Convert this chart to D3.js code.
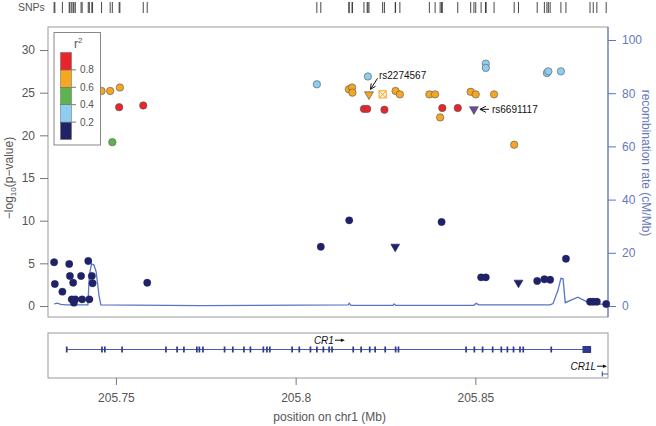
<!DOCTYPE html>
<html><head><meta charset="utf-8">
<script src="https://cdn.jsdelivr.net/npm/d3@7"></script>
<style>
body{margin:0;background:#fff;}
svg{display:block;font-family:"Liberation Sans",Arial,sans-serif;}
</style></head><body>
<svg id="chart" width="656" height="426"></svg>
<script>
// ---- data ----
const snpPos = [205.7328,205.7330,205.7351,205.7370,205.7372,205.7381,205.7377,205.7383,205.7387,205.7403,205.7406,205.7423,205.7433,205.7435,205.7426,205.7587,
205.7460,205.7484,205.7511,205.7509,205.7576,205.7490,
205.8059,205.8070,205.8148,205.8157,205.8158,205.8149,205.8201,205.8204,205.8242,205.8278,205.8290,205.8190,205.8199,205.8247,205.8277,
205.8372,205.8388,205.8408,205.8402,205.8406,205.8451,205.8487,205.8501,205.8496,205.8529,205.8529,205.8552,205.8516,205.8529,205.8608,
205.8620,205.8672,205.8692,205.8699,205.8703,205.8708,205.8738,205.8752,205.8819,205.8828,205.8838,205.8864];
const snpLogP = [5.12,2.58,1.68,4.92,3.52,2.73,0.78,0.39,0.78,3.52,0.78,5.27,3.52,2.66,0.78,2.73,
25.2,25.2,25.6,23.3,23.5,19.2,
25.98,6.95,25.4,25.6,25.0,10.04,26.9,24.8,24.8,25.2,24.8,23.1,23.1,23.0,6.95,
24.8,24.8,23.2,22.1,9.84,23.2,25.1,24.8,23.05,28.4,27.9,24.8,3.36,3.36,18.9,
2.73,2.93,3.13,27.3,27.5,3.08,27.5,5.54,0.5,0.5,0.5,0.23];
const snpR2 = [0.1,0.1,0.1,0.1,0.1,0.1,0.1,0.1,0.1,0.1,0.1,0.1,0.1,0.1,0.1,0.1,
0.7,0.7,0.7,0.9,0.9,0.5,
0.3,0.1,0.7,0.7,0.7,0.1,0.3,0.7,0.7,0.7,0.7,0.9,0.9,0.9,0.1,
0.7,0.7,0.9,0.7,0.1,0.9,0.7,0.7,1.0,0.3,0.3,0.7,0.1,0.1,0.7,
0.1,0.1,0.1,0.3,0.3,0.1,0.3,0.1,0.1,0.1,0.1,0.1];
const snpShape = ["c","c","c","c","c","c","c","c","c","c","c","c","c","c","c","c",
"c","c","c","c","c","c",
"c","c","c","c","c","c","c","t","x","c","c","c","c","c","t",
"c","c","c","c","c","c","c","c","t","c","c","c","c","c","c",
"t","c","c","c","c","c","c","c","c","c","c","c"];
const labels = [{name:"rs2274567", idx:29}, {name:"rs6691117", idx:45}];

const recombPos = [205.7328,205.7336,205.7347,205.7361,205.7422,205.7426,205.7432,205.7439,205.7445,205.7453,205.7458,205.7734,205.8146,205.8149,205.8154,205.8271,205.8274,205.8279,205.8496,205.8502,205.8510,205.8708,205.8716,205.8730,205.8738,205.8744,205.8750,205.8785,205.8819,205.8869];
const recombRate = [0.75,1.1,0.6,0.4,0.4,11.6,15.8,15.4,12.8,3.8,0.4,0.15,0.4,1.0,0.2,0.2,0.75,0.2,0.25,1.0,0.4,0.4,0.9,6.0,10.4,10.2,1.25,3.3,1.0,0.55];

const geneCR1 = {name:"CR1", start:205.7363, end:205.8822};
const cr1Exons = [205.7363,205.7461,205.7469,205.7517,205.7639,205.7670,205.7689,205.7725,205.7732,205.7742,205.7802,205.7825,205.7856,205.7874,205.7910,205.7920,205.7928,205.7990,205.8010,205.8041,205.8059,205.8077,205.8093,205.8101,205.8160,205.8182,205.8206,205.8221,205.8249,205.8278,205.8286,205.8474,205.8497,205.8520,205.8548,205.8572,205.8589,205.8606,205.8624,205.8633,205.8711];
const cr1LastExon = [205.8798,205.8822];
const geneCR1L = {name:"CR1L", start:205.8853, end:205.8869};

const leftTicks = [0,5,10,15,20,25,30];
const rightTicks = [0,20,40,60,80,100];
const xTicks = [205.75,205.80,205.85];
const xTickLabels = ["205.75","205.8","205.85"];
const legendBreaks = [0.2,0.4,0.6,0.8];
const legendColors = ["#1f2266","#8ecdf0","#5db44e","#f5a623","#e8252b"];

// ---- layout ----
const svg = d3.select("#chart");
const L = 48, R = 608, T = 27, B = 317;
const gT = 333, gB = 378;
const x = d3.scaleLinear().domain([205.7311, 205.8869]).range([L, R]);
const y = d3.scaleLinear().domain([0, 30]).range([306, 50]);
const yR = d3.scaleLinear().domain([0, 100]).range([306, 40]);
const blue = "#5a74c8";
const gray = "#555";

function r2color(r){ if(r>=1) return "#6a4ba0"; const i=Math.min(4,Math.floor(r/0.2)); return legendColors[i]; }

// SNP rug
svg.append("text").attr("x",18).attr("y",11).attr("font-size",10.5).attr("fill",gray).text("SNPs");
svg.append("g").selectAll("line").data(snpPos).join("line")
  .attr("x1",d=>x(d)).attr("x2",d=>x(d)).attr("y1",2).attr("y2",13)
  .attr("stroke","#333").attr("stroke-width",0.9);

// main box
svg.append("rect").attr("x",L).attr("y",T).attr("width",R-L).attr("height",B-T).attr("fill","none").attr("stroke","#999").attr("stroke-width",1);

// left axis
const la = svg.append("g").attr("transform",`translate(${L},0)`)
  .call(d3.axisLeft(y).tickValues(leftTicks).tickSize(8).tickPadding(5).tickSizeOuter(0));
la.select(".domain").remove();
la.selectAll("line").attr("stroke","#777");
la.selectAll("text").attr("fill",gray).attr("font-size",12).attr("font-family","Liberation Sans, Arial, sans-serif");

// right axis
const ra = svg.append("g").attr("transform",`translate(${R},0)`)
  .call(d3.axisRight(yR).tickValues(rightTicks).tickSize(8).tickPadding(6).tickSizeOuter(0));
ra.select(".domain").attr("d",`M0,${T}V${B}`).attr("stroke",blue);
ra.selectAll("line").attr("stroke",blue);
ra.selectAll("text").attr("fill","#6677bb").attr("font-size",12).attr("font-family","Liberation Sans, Arial, sans-serif");

// axis titles
const lt = svg.append("text").attr("transform","translate(13,178) rotate(-90)").attr("text-anchor","middle").attr("font-size",12).attr("fill",gray);
lt.append("tspan").text("\u2212log");
lt.append("tspan").attr("font-size",8).attr("dy",3).text("10");
lt.append("tspan").attr("dy",-3).text("(p\u2212value)");
svg.append("text").attr("transform","translate(642,163) rotate(90)").attr("text-anchor","middle").attr("font-size",12).attr("fill","#6677bb").text("recombination rate (cM/Mb)");

// recombination line
const line = d3.line().x((d,i)=>x(recombPos[i])).y(d=>yR(d));
svg.append("path").datum(recombRate).attr("d",line).attr("fill","none").attr("stroke",blue).attr("stroke-width",1.3);

// points (navy first so coloured on top)
const order = d3.range(snpPos.length).sort((a,b)=>snpR2[a]-snpR2[b]);
const pg = svg.append("g");
const tri = d3.symbol().type(d3.symbolTriangle).size(34);
order.forEach(i=>{
  const cx = x(snpPos[i]), cy = y(snpLogP[i]), col = r2color(snpR2[i]);
  if(snpShape[i]==="c"){
    pg.append("circle").attr("cx",cx).attr("cy",cy).attr("r",3.7).attr("fill",col).attr("stroke",snpR2[i]<0.2?col:"#555").attr("stroke-width",snpR2[i]<0.2?0.3:0.6);
  } else if(snpShape[i]==="t"){
    pg.append("path").attr("d",tri).attr("transform",`translate(${cx},${cy}) rotate(180)`).attr("fill",col).attr("stroke",snpR2[i]<0.2?col:"#444").attr("stroke-width",0.6);
  } else {
    const s=3.6;
    pg.append("rect").attr("x",cx-s).attr("y",cy-s).attr("width",2*s).attr("height",2*s).attr("fill","#fff5e0").attr("stroke",col).attr("stroke-width",1);
    pg.append("path").attr("d",`M${cx-s},${cy-s}L${cx+s},${cy+s}M${cx+s},${cy-s}L${cx-s},${cy+s}`).attr("stroke",col).attr("stroke-width",1);
  }
});

// annotation labels
const a1 = labels[0], a2 = labels[1];
{
  const cx = x(snpPos[a1.idx]), cy = y(snpLogP[a1.idx]);
  svg.append("text").attr("x",cx+10).attr("y",cy-15.5).attr("font-size",10).attr("fill","#111").text(a1.name);
  const x0=cx+8.5, y0=cy-16, x1=cx+1.5, y1=cy-5;
  svg.append("line").attr("x1",x0).attr("y1",y0).attr("x2",x1).attr("y2",y1).attr("stroke","#111").attr("stroke-width",1);
  const ang = Math.atan2(y0-y1,x0-x1);
  const h=6, sp=0.45;
  svg.append("path").attr("d",`M${x1+h*Math.cos(ang+sp)},${y1+h*Math.sin(ang+sp)}L${x1},${y1}L${x1+h*Math.cos(ang-sp)},${y1+h*Math.sin(ang-sp)}`).attr("fill","none").attr("stroke","#111").attr("stroke-width",1);
}
{
  const cx = x(snpPos[a2.idx]), cy = y(snpLogP[a2.idx]);
  svg.append("text").attr("x",cx+18).attr("y",cy+3.5).attr("font-size",10).attr("fill","#111").text(a2.name);
  const x0=cx+15, x1=cx+6;
  svg.append("line").attr("x1",x0).attr("y1",cy).attr("x2",x1).attr("y2",cy).attr("stroke","#111").attr("stroke-width",1);
  svg.append("path").attr("d",`M${x1+6},${cy-3}L${x1},${cy}L${x1+6},${cy+3}`).attr("fill","none").attr("stroke","#111").attr("stroke-width",1);
}

// legend
const lg = svg.append("g");
lg.append("rect").attr("x",54).attr("y",32.5).attr("width",46.5).attr("height",112.5).attr("fill","#fff").attr("stroke","#888").attr("stroke-width",1);
const ly = d3.scaleLinear().domain([0,1]).range([139.5,52.5]);
const lvals = [0,0.2,0.4,0.6,0.8];
lvals.forEach((v,i)=>{
  lg.append("rect").attr("x",60.5).attr("width",11).attr("y",ly(v+0.2)).attr("height",ly(v)-ly(v+0.2)).attr("fill",legendColors[i]).attr("stroke","#666").attr("stroke-width",0.5);
});
legendBreaks.forEach(b=>{
  lg.append("line").attr("x1",71.5).attr("x2",76).attr("y1",ly(b)).attr("y2",ly(b)).attr("stroke","#777");
  lg.append("text").attr("x",80).attr("y",ly(b)+3.5).attr("font-size",10).attr("fill",gray).text(b.toFixed(1));
});
const rt = lg.append("text").attr("x",74).attr("y",48).attr("font-size",12).attr("fill",gray);
rt.append("tspan").text("r");
rt.append("tspan").attr("font-size",8).attr("dy",-5).text("2");

// gene panel
svg.append("rect").attr("x",L).attr("y",gT).attr("width",R-L).attr("height",gB-gT).attr("fill","none").attr("stroke","#999");
const geneCol = "#2d3a8c";
const gy = 349.5;
svg.append("line").attr("x1",x(geneCR1.start)).attr("x2",x(geneCR1.end)).attr("y1",gy).attr("y2",gy).attr("stroke","#4a5bb0").attr("stroke-width",1);
svg.append("g").selectAll("rect").data(cr1Exons).join("rect")
  .attr("x",d=>x(d)-0.8).attr("width",1.7).attr("y",gy-3).attr("height",6).attr("fill",geneCol);
svg.append("rect").attr("x",x(cr1LastExon[0])).attr("width",x(cr1LastExon[1])-x(cr1LastExon[0])).attr("y",gy-3.5).attr("height",7).attr("fill",geneCol);

function geneLabel(name, xEnd, yb){
  const t = svg.append("text").attr("y",yb).attr("font-size",10).attr("font-style","italic").attr("fill","#111").text(name);
  const w = t.node().getComputedTextLength();
  const ax0 = xEnd-10, ay = yb-3.3;
  t.attr("x", ax0-1-w);
  svg.append("line").attr("x1",ax0).attr("x2",xEnd-3).attr("y1",ay).attr("y2",ay).attr("stroke","#111").attr("stroke-width",1);
  svg.append("path").attr("d",`M${xEnd},${ay}L${xEnd-4},${ay-1.8}L${xEnd-4},${ay+1.8}Z`).attr("fill","#111");
}
geneLabel(geneCR1.name, x((geneCR1.start+geneCR1.end)/2)+16, 343.5);
geneLabel(geneCR1L.name, 607, 369.5);
svg.append("line").attr("x1",x(geneCR1L.start)).attr("x2",x(geneCR1L.end)).attr("y1",374).attr("y2",374).attr("stroke","#4a5bb0");
svg.append("line").attr("x1",x(geneCR1L.start)).attr("x2",x(geneCR1L.start)).attr("y1",371.5).attr("y2",376.5).attr("stroke",geneCol);

// bottom axis
const ba = svg.append("g").attr("transform",`translate(0,${gB})`)
  .call(d3.axisBottom(x).tickValues(xTicks).tickFormat((d,i)=>xTickLabels[i]).tickSize(7).tickPadding(8).tickSizeOuter(0));
ba.select(".domain").remove();
ba.selectAll("line").attr("stroke","#777");
ba.selectAll("text").attr("fill",gray).attr("font-size",12).attr("font-family","Liberation Sans, Arial, sans-serif");
svg.append("text").attr("x",x(205.80)+34).attr("y",421).attr("text-anchor","middle").attr("font-size",12).attr("fill",gray).text("position on chr1 (Mb)");
</script>
</body></html>
